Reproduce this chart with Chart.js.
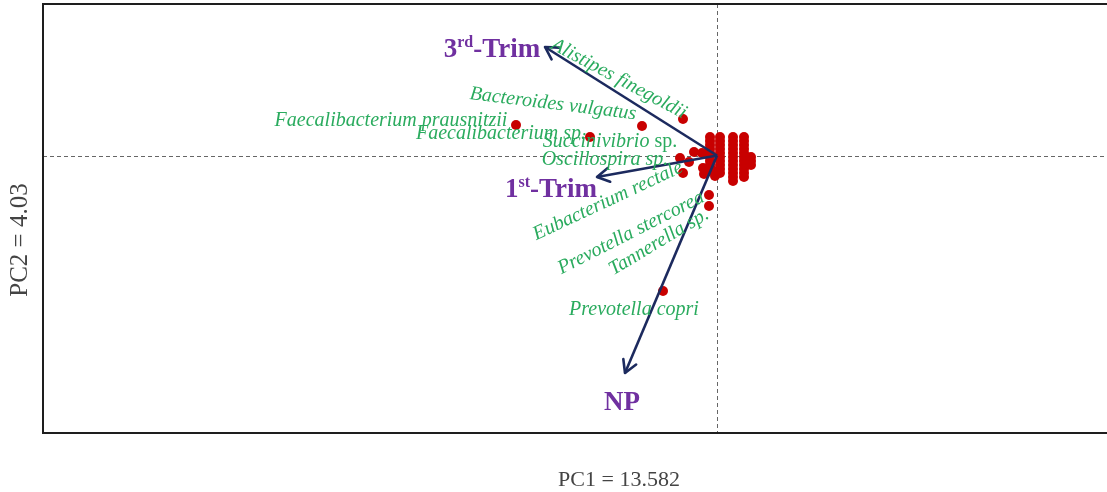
<!DOCTYPE html>
<html><head><meta charset="utf-8">
<script src="https://cdn.jsdelivr.net/npm/chart.js@4.4.1/dist/chart.umd.min.js"></script>
<style>html,body{margin:0;padding:0;background:#fff;overflow:hidden}canvas{display:block}</style>
</head><body>
<canvas id="c" width="1107" height="492"></canvas>
<script>
// ---- data ----
const speciesNames = ['Alistipes finegoldii','Bacteroides vulgatus','Faecalibacterium prausnitzii','Faecalibacterium sp.','Succinivibrio sp.','Oscillospira sp.','Eubacterium rectale','Prevotella stercorea','Tannerella sp.','Prevotella copri'];
const speciesX = [-0.34,-0.75,-2.01,-1.27,-0.23,-0.37,-0.34,-0.08,-0.08,-0.54];
const speciesY = [0.365,0.295,0.305,0.185,0.035,-0.025,-0.175,-0.395,-0.505,-1.355];
const otherTaxaX = [-0.28,-0.15];
const otherTaxaY = [-0.065,0.025];
const sampleX = [
 -0.07,-0.07,-0.07,-0.07,-0.07,-0.07,-0.07,
 0.03,0.03,0.03,0.03,0.03,0.03,0.03,0.03,0.03,0.03,
 0.16,0.16,0.16,0.16,0.16,0.16,0.16,0.16,0.16,0.16,0.16,0.16,
 0.27,0.27,0.27,0.27,0.27,0.27,0.27,0.27,0.27,0.27,0.27,
 0.34,0.34,0.34,
 -0.14,-0.10,-0.05,-0.02,-0.13,-0.07];
const sampleY = [
 0.185,0.145,0.105,0.065,0.025,-0.015,-0.055,
 0.185,0.145,0.105,0.065,0.025,-0.015,-0.055,-0.095,-0.135,-0.175,
 0.185,0.145,0.105,0.065,0.025,-0.015,-0.055,-0.095,-0.135,-0.175,-0.215,-0.255,
 0.185,0.145,0.105,0.065,0.025,-0.015,-0.055,-0.095,-0.135,-0.175,-0.215,
 -0.015,-0.055,-0.095,
 -0.125,-0.165,-0.145,-0.205,-0.185,-0.095];
const vectorBase = ['3','1','NP'];
const vectorSup = ['rd','st',''];
const vectorTail = ['-Trim','-Trim',''];
const vectorX = [-1.72,-1.20,-0.92];
const vectorY = [1.085,-0.215,-2.175];
const xTitle = 'PC1 = 13.582';
const yTitle = 'PC2 = 4.03';
const xRange = [-6.74, 3.90];
const yRange = [-2.775, 1.515];

// ---- label styling (pixel offsets from the point, rotation in degrees) ----
const speciesLabelStyle = [
 {dx:-64,dy:-40,rot:28},
 {dx:-89,dy:-22,rot:7},
 {dx:-125,dy:-4,rot:0},
 {dx:-89,dy:-3,rot:0},
 {dx:-84,dy:-10,rot:0,uprightSuffix:' sp.'},
 {dx:-75,dy:2,rot:0},
 {dx:-75,dy:28,rot:-25},
 {dx:-78,dy:38,rot:-27},
 {dx:-50,dy:36,rot:-31},
 {dx:-29,dy:19,rot:0}
];
const vectorLabelStyle = [
 {dx:-53,dy:0},
 {dx:-46,dy:10},
 {dx:-3,dy:27}
];

const RED = '#c80000', NAVY = '#1c2a5e', GREEN = '#2aab5e', PURPLE = '#7030a0';
const SERIF = '"Liberation Serif","DejaVu Serif",serif';

const pts = (xs, ys) => xs.map((x,i)=>({x, y: ys[i]}));

const vectorDatasets = vectorX.map((x,i)=>({
  type:'line', data:[{x:0,y:0},{x, y:vectorY[i]}],
  borderColor:NAVY, borderWidth:2.6, pointRadius:0, fill:false, order:0, tension:0
}));

const decor = {
  id:'decor',
  beforeDatasetsDraw(chart){
    const {ctx, chartArea:a, scales:{x,y}} = chart;
    ctx.save();
    ctx.strokeStyle = '#666'; ctx.lineWidth = 1; ctx.setLineDash([4,3]);
    const px = Math.round(x.getPixelForValue(0))+0.5, py = Math.round(y.getPixelForValue(0))+0.5;
    ctx.beginPath(); ctx.moveTo(px,a.top); ctx.lineTo(px,a.bottom); ctx.stroke();
    ctx.beginPath(); ctx.moveTo(a.left,py); ctx.lineTo(a.right,py); ctx.stroke();
    ctx.restore();
  },
  afterDatasetsDraw(chart){
    const {ctx, scales:{x,y}} = chart;
    ctx.save();
    // arrowheads
    const ox = x.getPixelForValue(0), oy = y.getPixelForValue(0);
    ctx.strokeStyle = NAVY; ctx.lineWidth = 2.6; ctx.lineCap='round'; ctx.lineJoin='round';
    vectorX.forEach((vx,i)=>{
      const tx = x.getPixelForValue(vx), ty = y.getPixelForValue(vectorY[i]);
      const ang = Math.atan2(ty-oy, tx-ox);
      const L = 14, s = 0.52;
      ctx.beginPath();
      ctx.moveTo(tx - L*Math.cos(ang-s), ty - L*Math.sin(ang-s));
      ctx.lineTo(tx, ty);
      ctx.lineTo(tx - L*Math.cos(ang+s), ty - L*Math.sin(ang+s));
      ctx.stroke();
    });
    // species labels
    ctx.fillStyle = GREEN;
    speciesNames.forEach((name,i)=>{
      const st = speciesLabelStyle[i];
      const cx = x.getPixelForValue(speciesX[i]) + st.dx;
      const cy = y.getPixelForValue(speciesY[i]) + st.dy;
      ctx.save();
      ctx.translate(cx, cy);
      ctx.rotate(st.rot*Math.PI/180);
      ctx.textBaseline = 'middle';
      if (st.uprightSuffix && name.endsWith(st.uprightSuffix)) {
        const main = name.slice(0, name.length - st.uprightSuffix.length);
        ctx.font = 'italic 20px '+SERIF;
        const w1 = ctx.measureText(main).width;
        ctx.font = '20px '+SERIF;
        const w2 = ctx.measureText(st.uprightSuffix).width;
        const x0 = -(w1+w2)/2;
        ctx.textAlign='left';
        ctx.font = 'italic 20px '+SERIF; ctx.fillText(main, x0, 0);
        ctx.font = '20px '+SERIF; ctx.fillText(st.uprightSuffix, x0+w1, 0);
      } else {
        ctx.font = 'italic 20px '+SERIF;
        ctx.textAlign='center';
        ctx.fillText(name, 0, 0);
      }
      ctx.restore();
    });
    // vector labels
    ctx.fillStyle = PURPLE;
    ctx.textBaseline = 'alphabetic'; ctx.textAlign='left';
    vectorBase.forEach((b,i)=>{
      const st = vectorLabelStyle[i];
      const cx = x.getPixelForValue(vectorX[i]) + st.dx;
      const by = y.getPixelForValue(vectorY[i]) + st.dy + 10;
      const big = 'bold 27px '+SERIF, small = 'bold 16px '+SERIF;
      ctx.font = big; const w1 = ctx.measureText(b).width, w3 = ctx.measureText(vectorTail[i]).width;
      ctx.font = small; const w2 = vectorSup[i] ? ctx.measureText(vectorSup[i]).width : 0;
      let xx = cx - (w1+w2+w3)/2;
      ctx.font = big; ctx.fillText(b, xx, by); xx += w1;
      if (vectorSup[i]) { ctx.font = small; ctx.fillText(vectorSup[i], xx, by-10); xx += w2; }
      ctx.font = big; ctx.fillText(vectorTail[i], xx, by);
    });
    ctx.restore();
  },
  afterDraw(chart){
    const {ctx, chartArea:a} = chart;
    ctx.save();
    ctx.strokeStyle = '#1e1e1e'; ctx.lineWidth = 2; ctx.setLineDash([]);
    ctx.beginPath();
    ctx.moveTo(a.right+2, a.top); ctx.lineTo(a.left, a.top); ctx.lineTo(a.left, a.bottom); ctx.lineTo(a.right+2, a.bottom);
    ctx.stroke();
    ctx.fillStyle = '#444';
    ctx.font = '22px '+SERIF;
    ctx.textAlign='center'; ctx.textBaseline='alphabetic';
    ctx.fillText(xTitle, 619, 486);
    ctx.save(); ctx.translate(20, 240); ctx.rotate(-Math.PI/2);
    ctx.font = '25px '+SERIF;
    ctx.textBaseline='middle'; ctx.fillText(yTitle, 0, 0); ctx.restore();
    ctx.restore();
  }
};

new Chart(document.getElementById('c'), {
  type:'scatter',
  data:{datasets:[
    ...vectorDatasets,
    {data:pts(sampleX,sampleY), backgroundColor:RED, borderWidth:0, pointRadius:5, order:2},
    {data:pts(otherTaxaX,otherTaxaY), backgroundColor:RED, borderWidth:0, pointRadius:5, order:2},
    {data:pts(speciesX,speciesY), backgroundColor:RED, borderWidth:0, pointRadius:5, order:2}
  ]},
  options:{
    responsive:false, animation:false, devicePixelRatio:1,
    layout:{padding:{left:43,top:4,right:0,bottom:59}, autoPadding:false},
    plugins:{legend:{display:false}, tooltip:{enabled:false}},
    scales:{
      x:{type:'linear', min:xRange[0], max:xRange[1], display:false},
      y:{type:'linear', min:yRange[0], max:yRange[1], display:false}
    }
  },
  plugins:[decor]
});
</script>
</body></html>
